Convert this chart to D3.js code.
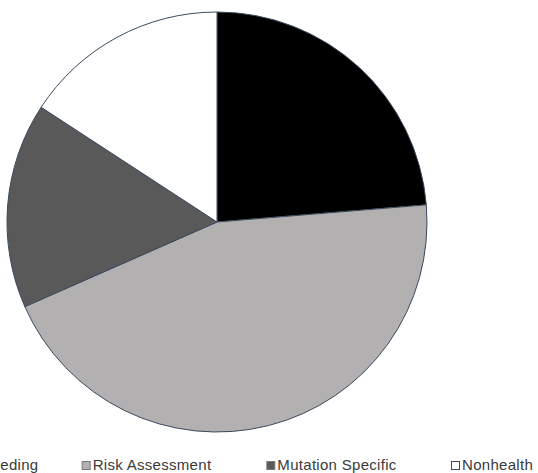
<!DOCTYPE html>
<html>
<head>
<meta charset="utf-8">
<script src="https://cdn.jsdelivr.net/npm/d3@7"></script>
<style>
  html, body { margin: 0; padding: 0; background: #fff; }
  svg { display: block; }
</style>
</head>
<body>
<svg id="chart" width="538" height="473"></svg>
<script>
const categories = ["Selective Breeding", "Risk Assessment", "Mutation Specific", "Nonhealth"];
const shares = [23.7, 44.7, 15.8, 15.8];
const sliceColors = ["#000000", "#b2b0b0", "#595959", "#ffffff"];

const svg = d3.select("#chart");
const cx = 217, cy = 222, radius = 210;

const data = categories.map((c, i) => ({ name: c, value: shares[i], color: sliceColors[i] }));

const pie = d3.pie().sort(null).value(d => d.value);
const arc = d3.arc().innerRadius(0).outerRadius(radius);

const pieG = svg.append("g").attr("transform", `translate(${cx},${cy})`);
pieG.selectAll("path").data(pie(data)).join("path")
    .attr("d", arc)
    .attr("fill", d => d.data.color)
    .attr("stroke", "#3b4a5e")
    .attr("stroke-width", 1)
    .attr("stroke-linejoin", "round");

// legend, evenly spaced entries (first one runs off the left edge as in the source)
const legendX = d3.scaleLinear().domain([0, categories.length - 1]).range([-103, 451]);
const legend = svg.append("g").attr("transform", "translate(0,461)");
const entries = legend.selectAll("g").data(data).join("g")
    .attr("transform", (d, i) => `translate(${legendX(i)},0)`);

entries.append("rect")
    .attr("x", 0.5)
    .attr("y", 0.5)
    .attr("width", 8)
    .attr("height", 8)
    .attr("fill", d => d.color)
    .attr("stroke", d => d.color === "#ffffff" ? "#3b4a5e" : "#7a7a7a")
    .attr("stroke-width", 1);

entries.append("text")
    .attr("x", 11)
    .attr("y", 8.5)
    .attr("font-family", "'Liberation Sans', Arial, sans-serif")
    .attr("font-size", "15px")
    .attr("letter-spacing", "0.3px")
    .attr("fill", "#3a3a3a")
    .text(d => d.name);
</script>
</body>
</html>
